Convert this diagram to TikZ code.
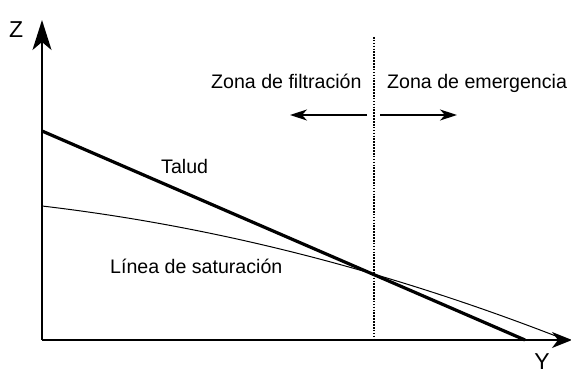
\documentclass[tikz,border=0pt]{standalone}
\usepackage{fontspec}
\setmainfont{Liberation Sans}
\usetikzlibrary{arrows.meta}
\begin{document}
\begin{tikzpicture}[x=1pt,y=-1pt,
  lbl/.style={inner sep=0pt,font=\fontsize{19.6}{22}\selectfont},
  axlbl/.style={inner sep=0pt,font=\fontsize{23}{25}\selectfont},
  axis/.style={line width=1.6pt},
  talud/.style={line width=3.2pt},
  satline/.style={line width=1pt},
  zonearrow/.style={line width=1.4pt,-{Stealth[length=17pt,width=11pt,inset=5pt]}},
  divider/.style={line width=2pt,dash pattern=on 1.6pt off 1.3pt}]
\useasboundingbox (0,0) rectangle (571,374);
% coordinates
\coordinate (O) at (42,340);
\coordinate (Ztip) at (42,20);
\coordinate (Ytip) at (572,340);
\coordinate (T0) at (42,131);
\coordinate (T1) at (525,340);
\coordinate (S0) at (42,206);
\coordinate (S1) at (566,340);
\coordinate (D0) at (373.5,37);
\coordinate (D1) at (373.5,340);
\coordinate (La) at (367,115);
\coordinate (Lb) at (290,115);
\coordinate (Ra) at (380,115);
\coordinate (Rb) at (457,115);
% axes
\draw[axis,-{Stealth[length=30pt,width=19pt,inset=8pt]}] (O) -- (Ztip);
\draw[axis,-{Stealth[length=20pt,width=16pt,inset=6pt]}] (O) -- (Ytip);
% divider
\draw[divider] (D0) -- (D1);
% talud
\draw[talud] (T0) -- (T1);
% saturation line
\draw[satline] (S0) .. controls (216.3,226.5) and (390.7,271.2) .. (S1);
% zone arrows
\draw[zonearrow] (La) -- (Lb);
\draw[zonearrow] (Ra) -- (Rb);
% labels
\node[axlbl,anchor=base west] (zl) at (9,38) {Z};
\node[axlbl,anchor=base] (yl) at (542,370) {Y};
\node[lbl,anchor=base west] (zf) at (211,89) {Zona de filtración};
\node[lbl,anchor=base west] (ze) at (387,89) {Zona de emergencia};
\node[lbl,anchor=base west] (tl) at (161,174) {Talud};
\node[lbl,anchor=base west] (ls) at (110,274) {Línea de saturación};
\end{tikzpicture}
\end{document}
